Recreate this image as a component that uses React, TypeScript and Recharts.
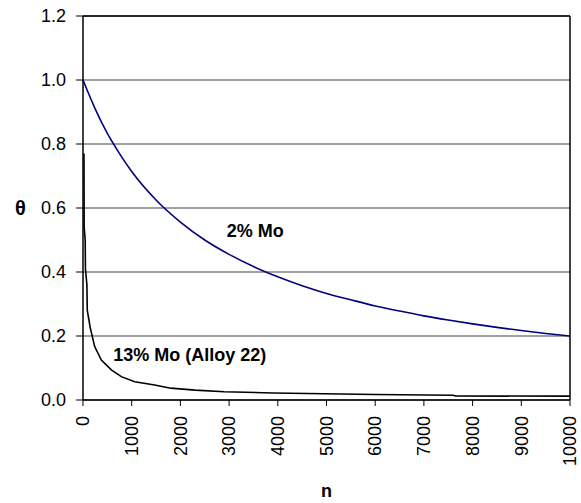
import { LineChart, Line, XAxis, YAxis, CartesianGrid, ReferenceLine, ReferenceDot } from 'recharts';

const FONT = '"Liberation Sans", Arial, Helvetica, sans-serif';

// 2% Mo curve (blue)
const moLowN = [0, 250, 500, 750, 1000, 1500, 2000, 2500, 3000, 3500, 4000, 4500, 5000, 5500, 6000, 6500, 7000, 7500, 8000, 8500, 9000, 9500, 10000];
const moLowTheta = [1.0, 0.91, 0.833, 0.77, 0.714, 0.625, 0.556, 0.5, 0.455, 0.417, 0.385, 0.357, 0.333, 0.313, 0.294, 0.278, 0.263, 0.25, 0.238, 0.227, 0.217, 0.208, 0.2];

// 13% Mo (Alloy 22) curve (black)
const moHighN = [20, 24, 45, 50, 80, 88, 150, 240, 376, 582, 787, 1061, 1472, 1800, 2300, 2900, 3900, 6000, 7600, 7650, 10000];
const moHighTheta = [0.77, 0.54, 0.5, 0.41, 0.36, 0.28, 0.225, 0.167, 0.125, 0.094, 0.073, 0.057, 0.047, 0.037, 0.031, 0.026, 0.022, 0.017, 0.015, 0.0125, 0.012];

const xTicks = [0, 1000, 2000, 3000, 4000, 5000, 6000, 7000, 8000, 9000, 10000];
const yTicks = [0, 0.2, 0.4, 0.6, 0.8, 1.0, 1.2];

const lowData = moLowN.map((n, i) => ({ n, theta: moLowTheta[i] }));
const highData = moHighN.map((n, i) => ({ n, theta: moHighTheta[i] }));

function RotatedTick({ x, y, payload }: any) {
    return (
        <text
            x={x}
            y={y}
            dy="0.35em"
            transform={`rotate(-90 ${x} ${y})`}
            textAnchor="end"
            fontFamily={FONT}
            fontSize={18}
            fill="#000"
        >
            {payload.value}
        </text>
    );
}

function curveLabel(text: string) {
    return ({ cx, cy }: any) => (
        <text x={cx} y={cy} fontFamily={FONT} fontSize={18} fontWeight="bold" fill="#000">
            {text}
        </text>
    );
}

export default function App() {
    return (
        <div style={{ position: 'absolute', left: 0, top: 0, background: '#fff' }}>
            <LineChart width={581} height={503} margin={{ top: 16, right: 11, bottom: 0, left: 0 }}>
                <CartesianGrid vertical={false} stroke="#808080" strokeWidth={1.5} />
                <XAxis
                    dataKey="n"
                    type="number"
                    domain={[0, 10000]}
                    ticks={xTicks}
                    interval={0}
                    height={103}
                    tickSize={6}
                    tickMargin={10}
                    tick={<RotatedTick />}
                    stroke="#000"
                    axisLine={{ stroke: '#000', strokeWidth: 1.5 }}
                    tickLine={{ stroke: '#000' }}
                    label={{ value: 'n', position: 'insideBottom', offset: 6, fontFamily: FONT, fontSize: 18, fontWeight: 'bold', fill: '#000' }}
                />
                <YAxis
                    type="number"
                    domain={[0, 1.2]}
                    ticks={yTicks}
                    interval={0}
                    width={83}
                    tickSize={7}
                    tickMargin={10}
                    tickFormatter={(v: number) => v.toFixed(1)}
                    tick={{ fontFamily: FONT, fontSize: 18, fill: '#000' }}
                    axisLine={{ stroke: '#000', strokeWidth: 1.5 }}
                    tickLine={{ stroke: '#000' }}
                    label={{ value: 'θ', position: 'insideLeft', offset: 15, fontFamily: FONT, fontSize: 20, fontWeight: 'bold', fill: '#000' }}
                />
                <ReferenceLine y={1.2} stroke="#000" strokeWidth={1.5} />
                <ReferenceLine x={10000} stroke="#000" strokeWidth={1.5} />
                <Line
                    data={lowData}
                    dataKey="theta"
                    type="monotone"
                    stroke="#000080"
                    strokeWidth={1.6}
                    dot={false}
                    isAnimationActive={false}
                />
                <Line
                    data={highData}
                    dataKey="theta"
                    type="linear"
                    stroke="#000"
                    strokeWidth={1.6}
                    dot={false}
                    isAnimationActive={false}
                />
                <ReferenceDot x={2950} y={0.509} r={0} shape={curveLabel('2% Mo')} />
                <ReferenceDot x={622} y={0.122} r={0} shape={curveLabel('13% Mo (Alloy 22)')} />
            </LineChart>
        </div>
    );
}
